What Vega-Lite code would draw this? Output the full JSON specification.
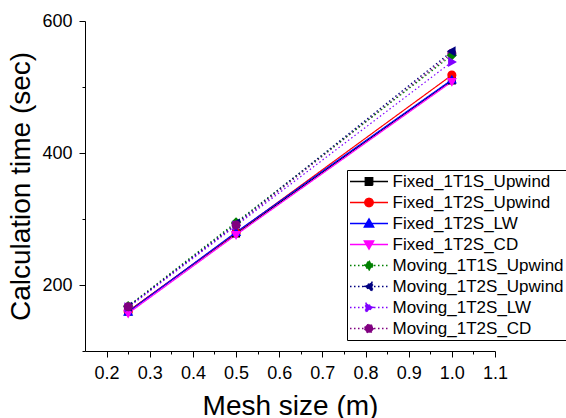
{
  "$schema": "https://vega.github.io/schema/vega-lite/v6.json",
  "autosize": {"type": "none"},
  "padding": {"left": 85, "top": 21, "right": 71, "bottom": 67},
  "width": 410,
  "height": 330,
  "background": "white",
  "config": {
    "view": {"stroke": null},
    "font": "Liberation Sans",
    "axis": {"grid": false, "domainColor": "black", "tickColor": "black", "labelColor": "black", "titleColor": "black", "labelFont": "Liberation Sans", "titleFont": "Liberation Sans", "labelFontSize": 18, "titleFontSize": 28, "titleFontWeight": "normal", "domainWidth": 1, "tickWidth": 1}
  },
  "data": {
    "values": [
      {"series": "Fixed_1T1S_Upwind", "x": 0.25, "y": 160},
      {"series": "Fixed_1T1S_Upwind", "x": 0.5, "y": 278},
      {"series": "Fixed_1T1S_Upwind", "x": 1.0, "y": 510},
      {"series": "Fixed_1T2S_Upwind", "x": 0.25, "y": 160},
      {"series": "Fixed_1T2S_Upwind", "x": 0.5, "y": 279},
      {"series": "Fixed_1T2S_Upwind", "x": 1.0, "y": 518},
      {"series": "Fixed_1T2S_LW", "x": 0.25, "y": 159},
      {"series": "Fixed_1T2S_LW", "x": 0.5, "y": 280},
      {"series": "Fixed_1T2S_LW", "x": 1.0, "y": 511},
      {"series": "Fixed_1T2S_CD", "x": 0.25, "y": 157},
      {"series": "Fixed_1T2S_CD", "x": 0.5, "y": 276},
      {"series": "Fixed_1T2S_CD", "x": 1.0, "y": 508},
      {"series": "Moving_1T2S_CD", "x": 1.0, "y": 551},
      {"series": "Moving_1T1S_Upwind", "x": 0.25, "y": 168},
      {"series": "Moving_1T1S_Upwind", "x": 0.5, "y": 295},
      {"series": "Moving_1T1S_Upwind", "x": 1.0, "y": 548},
      {"series": "Moving_1T2S_Upwind", "x": 0.25, "y": 167},
      {"series": "Moving_1T2S_Upwind", "x": 0.5, "y": 293},
      {"series": "Moving_1T2S_Upwind", "x": 1.0, "y": 554},
      {"series": "Moving_1T2S_LW", "x": 0.25, "y": 166},
      {"series": "Moving_1T2S_LW", "x": 0.5, "y": 290},
      {"series": "Moving_1T2S_LW", "x": 1.0, "y": 538},
      {"series": "Moving_1T2S_CD", "x": 0.25, "y": 167},
      {"series": "Moving_1T2S_CD", "x": 0.5, "y": 291}
    ]
  },
  "encoding": {
    "x": {
      "field": "x", "type": "quantitative",
      "scale": {"domain": [0.15, 1.1], "nice": false, "zero": false},
      "axis": {
        "title": "Mesh size (m)",
        "values": [0.2, 0.25, 0.3, 0.35, 0.4, 0.45, 0.5, 0.55, 0.6, 0.65, 0.7, 0.75, 0.8, 0.85, 0.9, 0.95, 1.0, 1.05, 1.1],
        "labelExpr": "abs(datum.value*10 - round(datum.value*10)) < 0.01 ? format(datum.value, '.1f') : ''",
        "tickSize": {"condition": {"test": "abs(datum.value*10 - round(datum.value*10)) < 0.01", "value": 6}, "value": 3},
        "labelPadding": 7,
        "titlePadding": 10,
        "labelFlush": false,
        "labelOverlap": false
      }
    },
    "y": {
      "field": "y", "type": "quantitative",
      "scale": {"domain": [100, 600], "nice": false, "zero": false},
      "axis": {
        "title": "Calculation time (sec)",
        "values": [100, 200, 300, 400, 500, 600],
        "labelExpr": "datum.value % 200 === 0 ? datum.value : ''",
        "tickSize": {"condition": {"test": "datum.value % 200 === 0", "value": 6}, "value": 3},
        "labelPadding": 7,
        "titlePadding": 6,
        "labelFlush": false,
        "labelOverlap": false
      }
    },
    "color": {
      "field": "series", "type": "nominal",
      "scale": {
        "domain": ["Fixed_1T1S_Upwind", "Fixed_1T2S_Upwind", "Fixed_1T2S_LW", "Fixed_1T2S_CD", "Moving_1T1S_Upwind", "Moving_1T2S_Upwind", "Moving_1T2S_LW", "Moving_1T2S_CD"],
        "range": ["#000000", "#ff0000", "#0000ff", "#ff00ff", "#008000", "#000080", "#8000ff", "#800080"]
      },
      "legend": {
        "title": null,
        "orient": "none",
        "legendX": 262,
        "legendY": 149,
        "strokeColor": "black",
        "padding": 3,
        "labelFont": "Liberation Sans",
        "labelFontSize": 17,
        "labelColor": "black",
        "labelLimit": 400,
        "symbolSize": 100,
        "symbolStrokeWidth": 1.3,
        "symbolOpacity": 1,
        "symbolOffset": 10.5,
        "labelOffset": 15,
        "rowPadding": 3
      }
    },
    "strokeDash": {
      "field": "series", "type": "nominal",
      "scale": {
        "domain": ["Fixed_1T1S_Upwind", "Fixed_1T2S_Upwind", "Fixed_1T2S_LW", "Fixed_1T2S_CD", "Moving_1T1S_Upwind", "Moving_1T2S_Upwind", "Moving_1T2S_LW", "Moving_1T2S_CD"],
        "range": [[1, 0], [1, 0], [1, 0], [1, 0], [1.5, 2.5], [1.5, 2.5], [1.5, 2.5], [1.5, 2.5]]
      }
    }
  },
  "layer": [
    {
      "mark": {"type": "line", "strokeWidth": 1.2}
    },
    {
      "mark": {"type": "point", "filled": true, "opacity": 1, "size": 115},
      "encoding": {
        "strokeWidth": {"value": 0},
        "stroke": {
          "field": "series", "type": "nominal",
          "scale": {
            "domain": ["Fixed_1T1S_Upwind", "Fixed_1T2S_Upwind", "Fixed_1T2S_LW", "Fixed_1T2S_CD", "Moving_1T1S_Upwind", "Moving_1T2S_Upwind", "Moving_1T2S_LW", "Moving_1T2S_CD"],
            "range": ["#000000", "#ff0000", "#0000ff", "#ff00ff", "#008000", "#000080", "#8000ff", "#800080"]
          }
        },
        "shape": {
          "field": "series", "type": "nominal",
          "scale": {
            "domain": ["Fixed_1T1S_Upwind", "Fixed_1T2S_Upwind", "Fixed_1T2S_LW", "Fixed_1T2S_CD", "Moving_1T1S_Upwind", "Moving_1T2S_Upwind", "Moving_1T2S_LW", "Moving_1T2S_CD"],
            "range": [
              "M-3.8,0H3.8M-0.75,-0.75H0.75V0.75H-0.75Z",
              "M-3.8,0H3.8M-0.85,0A0.85,0.85,0,1,0,0.85,0A0.85,0.85,0,1,0,-0.85,0Z",
              "M-3.8,0H3.8M0,-0.95L0.95,0.7L-0.95,0.7Z",
              "M-3.8,0H3.8M0,0.95L0.95,-0.7L-0.95,-0.7Z",
              "M-3.8,0H3.8M0,-0.95L0.95,0L0,0.95L-0.95,0Z",
              "M-3.8,0H3.8M-0.95,0L0.7,-0.95L0.7,0.95Z",
              "M-3.8,0H3.8M0.95,0L-0.7,-0.95L-0.7,0.95Z",
              "M-3.8,0H3.8M-0.85,0A0.85,0.85,0,1,0,0.85,0A0.85,0.85,0,1,0,-0.85,0Z"
            ]
          }
        }
      }
    }
  ]
}
